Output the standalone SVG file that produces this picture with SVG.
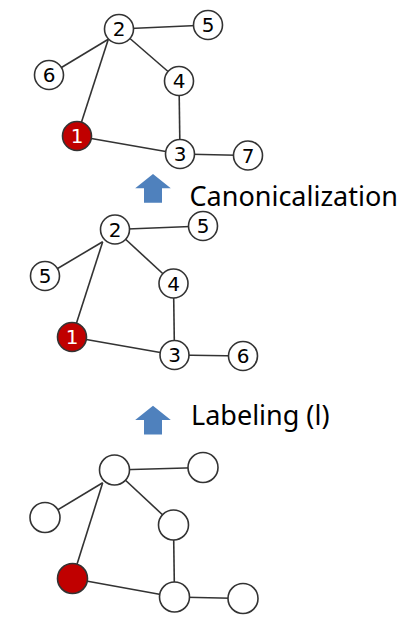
<svg xmlns="http://www.w3.org/2000/svg" xmlns:xlink="http://www.w3.org/1999/xlink" width="410" height="638" viewBox="0 0 410 638">
<style>
  .edge { stroke: #333333; stroke-width: 1.6; fill: none; }
  .node { fill: #ffffff; stroke: #333333; stroke-width: 1.6; }
  .root { fill: #C00000; stroke: #333333; stroke-width: 1.6; }
  .lbl { font-family: "DejaVu Sans", "Liberation Sans", sans-serif; font-size: 20px; fill: #000000; text-anchor: middle; }
  .lblw { fill: #ffffff; }
  .cap { font-family: "Noto Sans", "Open Sans", sans-serif; font-size: 27px; fill: #000000; }
  .arrow { fill: #4F81BD; }
</style>
<defs>
  <path id="uparrow" class="arrow" d="M0,0 L17.8,14.3 L9,14.3 L9,28.7 L-9,28.7 L-9,14.3 L-17.8,14.3 Z"/>
</defs>
<rect width="410" height="638" fill="#ffffff"/>

<g id="connectors">
  <!-- top graph -->
  <line class="edge" x1="119" y1="29" x2="208" y2="25"/>
  <line class="edge" x1="108.3" y1="39.3" x2="49" y2="75"/>
  <line class="edge" x1="108.3" y1="39.3" x2="77" y2="136"/>
  <line class="edge" x1="119" y1="29" x2="179" y2="81"/>
  <line class="edge" x1="179" y1="81" x2="180" y2="154"/>
  <line class="edge" x1="77" y1="136" x2="180" y2="154"/>
  <line class="edge" x1="180" y1="154" x2="248" y2="155.5"/>
  <!-- middle graph -->
  <line class="edge" x1="115" y1="229.5" x2="203" y2="226"/>
  <line class="edge" x1="102.7" y1="241.7" x2="45" y2="276"/>
  <line class="edge" x1="102.7" y1="241.7" x2="72" y2="337"/>
  <line class="edge" x1="115" y1="229.5" x2="173.5" y2="283.5"/>
  <line class="edge" x1="173.5" y1="283.5" x2="174.5" y2="355"/>
  <line class="edge" x1="72" y1="337" x2="174.5" y2="355"/>
  <line class="edge" x1="174.5" y1="355" x2="243" y2="356"/>
  <!-- bottom graph -->
  <line class="edge" x1="114.5" y1="470" x2="203" y2="467.5"/>
  <line class="edge" x1="102.7" y1="482.7" x2="45" y2="517.5"/>
  <line class="edge" x1="102.7" y1="482.7" x2="72.5" y2="578.5"/>
  <line class="edge" x1="114.5" y1="470" x2="173.5" y2="525"/>
  <line class="edge" x1="173.5" y1="525" x2="174.5" y2="597"/>
  <line class="edge" x1="72.5" y1="578.5" x2="174.5" y2="597"/>
  <line class="edge" x1="174.5" y1="597" x2="243" y2="598.5"/>
</g>

<!-- top graph nodes -->
<g id="t2"><circle class="node" cx="119" cy="29" r="14.5"/><text class="lbl" x="119" y="36.3">2</text></g>
<g id="t5"><circle class="node" cx="208" cy="25" r="14.5"/><text class="lbl" x="208" y="32.3">5</text></g>
<g id="t6"><circle class="node" cx="49" cy="75" r="14.5"/><text class="lbl" x="49" y="82.3">6</text></g>
<g id="t4"><circle class="node" cx="179" cy="81" r="14.5"/><text class="lbl" x="179" y="88.3">4</text></g>
<g id="t1"><circle class="root" cx="77" cy="136" r="14.5"/><text class="lbl lblw" x="77" y="143.3">1</text></g>
<g id="t3"><circle class="node" cx="180" cy="154" r="14.5"/><text class="lbl" x="180" y="161.3">3</text></g>
<g id="t7"><circle class="node" cx="248" cy="155.5" r="14.5"/><text class="lbl" x="248" y="162.8">7</text></g>

<!-- middle graph nodes -->
<g id="m2"><circle class="node" cx="115" cy="229.5" r="14.5"/><text class="lbl" x="115" y="236.8">2</text></g>
<g id="m5a"><circle class="node" cx="203" cy="226" r="14.5"/><text class="lbl" x="203" y="233.3">5</text></g>
<g id="m5b"><circle class="node" cx="45" cy="276" r="14.5"/><text class="lbl" x="45" y="283.3">5</text></g>
<g id="m4"><circle class="node" cx="173.5" cy="283.5" r="14.5"/><text class="lbl" x="173.5" y="290.8">4</text></g>
<g id="m1"><circle class="root" cx="72" cy="337" r="14.5"/><text class="lbl lblw" x="72" y="344.3">1</text></g>
<g id="m3"><circle class="node" cx="174.5" cy="355" r="14.5"/><text class="lbl" x="174.5" y="362.3">3</text></g>
<g id="m6"><circle class="node" cx="243" cy="356" r="14.5"/><text class="lbl" x="243" y="363.3">6</text></g>

<!-- bottom graph nodes -->
<g id="b2"><circle class="node" cx="114.5" cy="470" r="15"/></g>
<g id="b5a"><circle class="node" cx="203" cy="467.5" r="15"/></g>
<g id="b5b"><circle class="node" cx="45" cy="517.5" r="15"/></g>
<g id="b4"><circle class="node" cx="173.5" cy="525" r="15"/></g>
<g id="b1"><circle class="root" cx="72.5" cy="578.5" r="15"/></g>
<g id="b3"><circle class="node" cx="174.5" cy="597" r="15"/></g>
<g id="b6"><circle class="node" cx="243" cy="598.5" r="15"/></g>

<!-- arrows and captions -->
<g id="step-canon">
  <use xlink:href="#uparrow" href="#uparrow" x="153" y="174"/>
  <text class="cap" x="189.5" y="206">Canonicalization</text>
</g>
<g id="step-label">
  <use xlink:href="#uparrow" href="#uparrow" x="153" y="405.7"/>
  <text class="cap" x="191" y="425">Labeling (l)</text>
</g>
</svg>
